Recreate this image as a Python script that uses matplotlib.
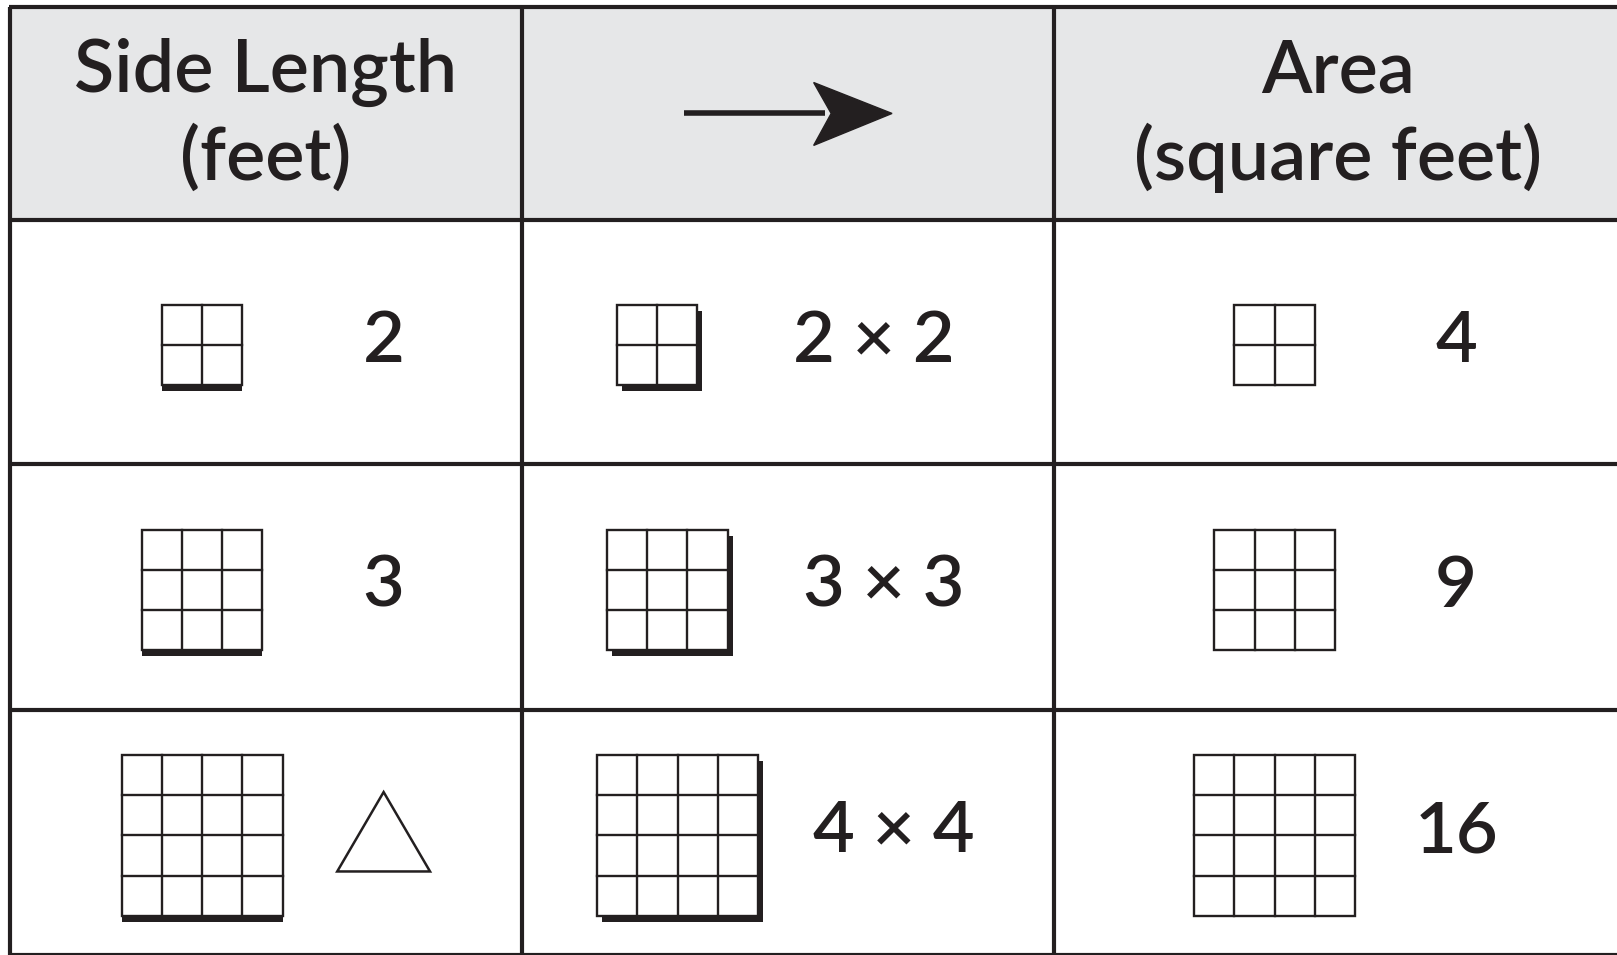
import matplotlib.pyplot as plt
from matplotlib.patches import Rectangle, Polygon

# table contents
header_left = "Side Length\n(feet)"
header_right = "Area\n(square feet)"
sides = [2, 3, 4]
side_labels = ["2", "3", None]          # last row shows a triangle instead
products = ["2 × 2", "3 × 3", "4 × 4"]
areas = ["4", "9", "16"]

ink = "#231f20"
gray = "#e6e7e8"
cell = 39          # size of one unit square (drawing units)

fig = plt.figure(figsize=(16.17, 9.55), dpi=100)
ax = fig.add_axes([0, 0, 1, 1])
ax.set_xlim(0, 1568)
ax.set_ylim(926, 0)
ax.axis("off")

# table frame
col_x = [10, 506, 1022, 1600]
row_y = [7, 213, 450, 688, 926]
ax.add_patch(Rectangle((col_x[0], row_y[0]), col_x[-1] - col_x[0], row_y[1] - row_y[0],
                       facecolor=gray, edgecolor="none", zorder=0))
for yy in row_y:
    ax.plot([col_x[0] - 1.5, col_x[-1]], [yy, yy], color=ink, lw=3.0, solid_capstyle="butt")
for xx in col_x[:-1]:
    ax.plot([xx, xx], [row_y[0], row_y[-1]], color=ink, lw=3.0, solid_capstyle="butt")

font = dict(family=["Lato", "DejaVu Sans"], color=ink, fontweight="semibold")
ax.text(258, 112, header_left, ha="center", va="center", fontsize=53,
        linespacing=1.3, **font)
ax.text(1297, 112, header_right, ha="center", va="center", fontsize=53,
        linespacing=1.3, **font)

# arrow in middle header
ax.plot([663, 800], [110, 110], color=ink, lw=4, solid_capstyle="butt")
ax.add_patch(Polygon([[865, 110], [789, 80], [806, 110], [789, 141]],
                     closed=True, facecolor=ink, edgecolor=ink, lw=1))


def grid_square(cx, cy, n, shadow=None):
    w = n * cell
    x0, y0 = cx - w / 2, cy - w / 2
    if shadow == "bottom":
        ax.add_patch(Rectangle((x0, y0 + w - 1), w, 7, facecolor=ink, edgecolor="none"))
    elif shadow == "corner":
        ax.add_patch(Rectangle((x0 + 5, y0 + 6), w, w, facecolor=ink, edgecolor="none"))
    ax.add_patch(Rectangle((x0, y0), w, w, facecolor="white", edgecolor=ink, lw=1.7))
    for k in range(1, n):
        ax.plot([x0 + k * cell] * 2, [y0, y0 + w], color=ink, lw=1.7)
        ax.plot([x0, x0 + w], [y0 + k * cell] * 2, color=ink, lw=1.7)


for i, n in enumerate(sides):
    cy = (row_y[i + 1] + row_y[i + 2]) / 2
    # side length column
    grid_square(196, cy + 3, n, shadow="bottom")
    if side_labels[i] is not None:
        ax.text(372, cy, side_labels[i], ha="center", va="center", fontsize=52, **font)
    else:
        ax.add_patch(Polygon([[327, cy + 38], [417, cy + 38], [372, cy - 39]],
                             closed=True, facecolor="none", edgecolor=ink, lw=1.8))
    # multiplication column
    shift = 10 * i
    grid_square(637 + shift, cy + 3, n, shadow="corner")
    ax.text(847 + shift, cy, products[i], ha="center", va="center", fontsize=52, **font)
    # area column
    grid_square(1236, cy + 3, n)
    ax.text(1412, cy, areas[i], ha="center", va="center", fontsize=52, **font)

fig.savefig("out.png", dpi=100, facecolor="white")
